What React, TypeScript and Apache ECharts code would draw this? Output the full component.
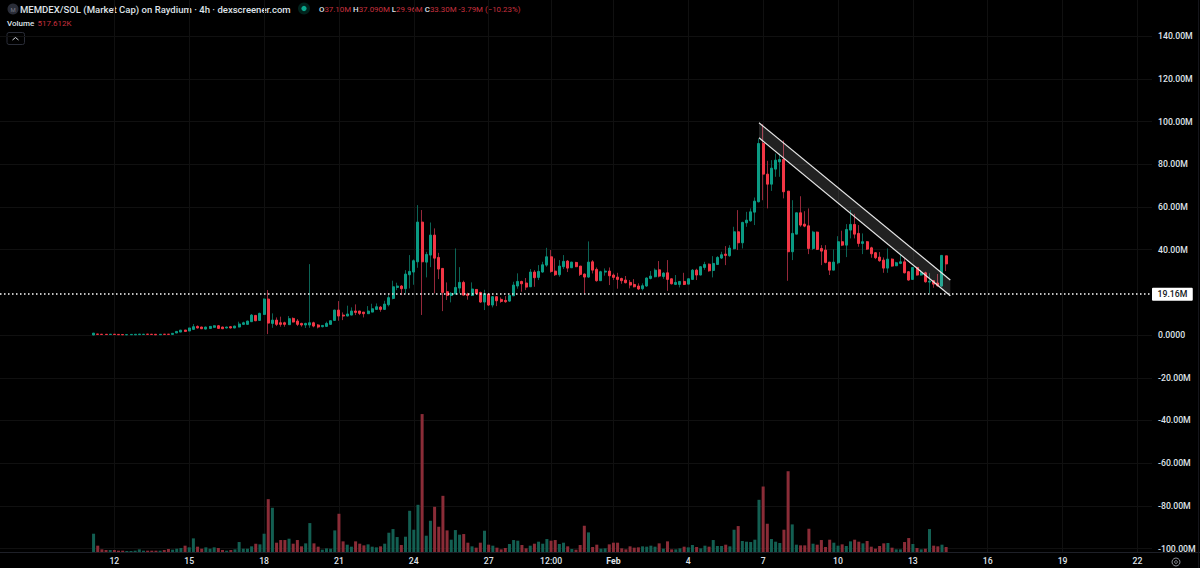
import React, { useEffect, useRef } from "react";
import * as echarts from "echarts";

// OHLC rows in millions: [open, close, low, high]
const candleRows: number[][] = [
  [0,.9,0,.9],[.5,.3,.2,.5],[.4,.25,.2,.45],[.35,.25,.2,.4],[.25,.4,.2,.45],[.4,.25,.2,.45],[.3,.15,.1,.35],[.25,.1,.05,.3],[.1,.2,.05,.25],[.15,.3,.1,.3],
  [.1,.35,.05,.4],[.2,.45,.15,.5],[.25,.4,.2,.45],[.45,.3,.25,.5],[.4,.25,.2,.45],[.35,.1,.05,.4],[.15,.35,.1,.4],[.4,.3,.25,.45],[.4,.3,.25,.45],[.3,.8,.25,.9],
  [.95,1.7,.9,1.8],[1.4,2.3,1.4,2.4],[2.35,1.7,1.6,2.4],[1.9,3.3,1.8,3.4],[2.65,3.9,2.5,5.15],[4.05,3.3,3.1,4.5],[3.75,2.95,2.8,3.9],[2.8,3.75,2.7,3.9],[3.1,4.05,3,4.2],[3.6,4.35,3.5,4.5],
  [4.35,3.1,3,4.7],[3.75,2.95,2.8,3.9],[3.3,3.75,3.1,3.9],[3.9,3.3,3.1,4.2],[3.3,4.2,3.2,4.35],[3.75,5.15,3.6,6.25],[5,5.75,4.7,6.25],[5,6.55,4.9,6.7],[6.25,9.35,6.1,9.85],[9.2,6.7,6.5,9.4],
  [6.85,10.15,6.7,10.45],[9.65,16.85,9.5,17.15],[16.85,5.6,.45,21.05],[5.45,7,3.4,10.15],[7,5,4.2,8.25],[5.75,5,3.9,8.6],[5.75,5,3.9,6.25],[4.85,7.65,4.7,8.9],[7.8,6.1,5.9,8.25],[6.55,5,4.2,7.5],
  [5.45,4.7,3.9,5.75],[4.7,5.45,3.3,5.75],[4.7,5.75,3.4,33.2],[5.75,4.2,3.6,6.25],[4.7,3.75,3.1,5.15],[3.9,4.5,3.6,4.7],[4.05,5.45,3.9,6.25],[5,6.7,4.9,6.85],[6.85,11.7,6.7,11.85],[11.7,8.9,6.7,15.9],
  [9.35,8.9,7,10.6],[8.9,9.85,8.8,13.75],[9.35,11.25,9.3,12.95],[11.25,10.6,9.35,14.35],[11.25,10.15,9.35,11.25],[10.75,10,8.25,10.75],[10,11.25,9.9,13.55],[10.75,12.3,10.7,14.65],[12,13.25,11.9,14.8],[13.1,12,10.9,13.6],
  [12,14.5,11.9,16.05],[14.2,17.5,13.4,18.7],[17.15,22.6,16.7,25.45],[22.3,22.95,21,24.5],[22.95,21.7,18.7,23.4],[21.7,28.55,19.5,30.4],[28.25,29.8,21.85,37.45],[29.5,34.8,23.55,35.4],[34.3,52.9,31.5,60.85],[52.9,34.3,9.4,58.55],
  [34.15,37.75,27,38.95],[37.45,46.8,31.8,52.7],[46.8,36,19.5,49.95],[36.35,30.9,26.2,38.5],[31.2,19.95,11.2,31.3],[20.3,18.55,16.4,24.65],[18.55,19.5,15.3,20.1],[19.2,22.3,19.2,40.55],[22,24.65,19.5,31.8],[24.65,18.7,18.7,25.45],
  [19.2,18.55,16.55,19.8],[18.55,21.55,18.25,24.65],[21.35,19.5,19.2,21.35],[19.95,15.45,15.1,20.3],[15.45,19.35,11.7,21.2],[19.2,14.05,13.6,19.5],[14.05,17.95,12.95,18.25],[17.95,16.05,13.55,18.25],[16.7,15.75,15.1,17.6],[16.2,15.6,15.1,18.25],
  [15.9,18.55,15.6,18.7],[18.4,23.4,18.25,24.95],[22.95,25.1,21.7,28.9],[25.1,24,20.3,25.45],[24.35,22.45,21.05,26.7],[22.6,29.5,22.6,30.9],[29.5,26.85,22.6,30.4],[27,29.8,25.75,32.75],[29.5,32.9,29.2,34.3],[32.75,36.65,31.95,40.85],
  [36.65,29.8,29.2,39.8],[29.95,28.25,27.65,35.9],[28.25,32.3,27.3,35.1],[32,34.5,30.9,37.45],[34.65,31.35,29.5,35.1],[31.5,34.15,31.5,34.3],[34,32,31.8,34.3],[32.3,28.4,27.65,32.3],[28.55,27.15,19.5,28.85],[27.15,34.15,26.85,43.85],
  [34.3,30.4,28.85,35.1],[30.75,25.45,25,31.65],[25.45,29.65,25.45,30.1],[29.5,29.95,27.8,31.2],[29.95,27.75,23.4,31.65],[28.1,27,25.75,28.85],[27.15,26.05,21.7,29.15],[26.5,25.45,24,26.85],[25.75,24.5,24.2,27.65],[24.65,23.4,21.85,25.75],
  [23.7,22.6,22.3,26.2],[22.95,21.55,21.05,24.2],[21.7,23.1,20.9,24.2],[22.95,26.7,22.6,27],[26.5,27.6,26.05,30],[27.3,30.4,27,31.2],[30.55,27.6,27,34.65],[27.45,29,26.35,29.45],[29.15,26.05,20.7,35.1],[26.35,24,23.7,26.5],
  [23.7,24.65,23.4,28.1],[23.7,25.1,22.3,25.1],[25.1,23.7,23.4,29.15],[23.85,26.35,23.7,26.5],[26.05,30.4,25.9,30.9],[30.4,28.1,25.75,31.05],[28.1,32,28,32.3],[31.65,33.05,30.55,34.3],[33.2,30.1,29.65,33.5],[30.25,33.55,27,36.95],
  [33.05,36.35,33,36.95],[36.05,37.6,35.6,39],[37.9,37.3,32.75,41.65],[37.15,40.7,36.65,42.1],[40.4,48.35,40.1,50.7],[48.35,43.2,39.8,58.5],[43.2,52.75,40.55,53.05],[52.55,53.8,50.7,57.7],[53.5,57.7,53.05,59.3],[57.55,62.7,51.5,64.4],
  [62.4,89.7,62.1,92],[89.7,75.35,63.15,98.75],[75.35,70.65,59.3,81.6],[70.65,78.15,67.5,81.9],[77.7,81.9,74.1,84.95],[81.1,82.2,74.1,84.95],[82.2,67.1,64,91.1],[67.4,39,25.4,67.4],[39,47.6,35.1,63.15],[47.25,57.25,47.25,57.25],
  [57.25,51.5,50.7,65],[51.95,51,50.5,58],[51.15,40.55,37.9,59.3],[40.55,48.2,39.8,48.8],[48.2,40.1,39.8,48.5],[40.55,39.3,32.75,42.1],[39.8,34,33.55,42.1],[34.15,30.4,28.1,34.15],[30.4,34.15,30.4,40.1],[33.85,43.7,33.2,46.3],
  [43.7,42.1,41.65,48.85],[42.1,49.45,36.5,51.95],[49.15,51.8,45.25,58.5],[51.8,47.25,45.25,56.75],[47.6,42.9,41.35,51.5],[42.9,43.7,37.9,47.6],[43.7,40.25,39.8,44],[40.85,38.05,36.2,41.35],[38.55,36.2,35.55,38.85],[36.5,34.8,34.3,38.85],
  [35.1,31.35,29.15,36.35],[31.35,35.55,29.15,40.55],[35.55,32.3,32,35.9],[32.45,33.85,32.3,34.3],[33.55,34.3,33.2,37.45],[34.3,29.15,28.85,35.9],[29.65,25.75,25.45,29.95],[26.05,31.65,25.9,31.8],[31.65,28.1,27.8,32],[28.1,29.15,27.8,30.4],
  [29.15,24.95,24.5,29.65],[24.8,25.25,19.5,29],[25.45,23.85,22.15,25.75],[24.35,23.1,22.6,28.55],[22.95,37.3,22.6,37.45],[37.1,33.3,29.96,37.1],
];

// Volume per candle, thousands
const volumes: number[] = [
  1898,656,276,207,207,207,138,138,104,104,138,276,138,138,138,138,138,207,311,242,
  345,414,656,483,1415,552,345,483,345,483,414,207,138,207,276,1035,345,345,587,863,
  794,1898,5486,4589,966,1242,1242,1380,863,1242,587,897,3002,897,552,242,380,345,2243,3968,
  1104,759,552,1104,863,690,794,552,483,587,863,2001,2381,1553,725,1587,4278,2312,4899,14318,
  1691,3243,4692,2622,5831,2243,1277,2277,1794,1863,966,587,449,966,2208,759,656,449,276,414,
  828,1242,1173,725,380,656,863,1070,863,1346,1173,1242,828,966,587,311,242,725,2726,2036,
  518,759,345,380,794,966,966,380,276,587,449,483,587,552,656,552,897,345,1104,276,
  276,380,552,483,725,518,380,656,552,1242,621,621,759,587,2312,2691,1139,1070,1035,1277,
  5417,6797,2933,1346,1070,932,2312,8384,2864,759,690,690,2415,863,759,1242,518,1277,966,656,
  794,621,1104,1277,1070,897,1139,552,345,621,897,932,449,276,276,1035,1449,828,414,276,
  345,2381,656,587,759,518,
];

const tickKeys = ["01-12 00","01-15 00","01-18 00","01-21 00","01-24 00","01-27 00","01-29 12","02-01 00","02-04 00","02-07 00","02-10 00","02-13 00","02-16 00","02-19 00","02-22 00"];
const tickLabels = ["12","15","18","21","24","27","12:00","Feb","4","7","10","13","16","19","22"];
const priceTicks = [140,120,100,80,60,40,0,-20,-40,-60,-80,-100];

const leadingSlots = 22;
const totalSlots = 277;
// channel: [start slot, upper, lower, end slot, upper, lower]
const channelRow = [182, 99.4, 92.4, 228, 25.8, 18.4];
const dottedPrice = 19.16;
const lastPrice = 33.30;

const FONT = "Roboto, 'Noto Sans', sans-serif";
const UP = "#0a9a83", DOWN = "#f23645", UP_WICK = "#0b6355", DOWN_WICK = "#96283a", UP_VOL = "#135f52", DOWN_VOL = "#8a2c37";
const AXIS_SIZE = 8.7;
const TEXT = "#dfe2e8";
const GRID = "#101010";

const categories: string[] = [];
{
  const start = Date.UTC(2025, 0, 7, 12);
  const pad = (n: number) => String(n).padStart(2, "0");
  for (let i = 0; i < totalSlots; i++) {
    const d = new Date(start + i * 4 * 3600 * 1000);
    categories.push(`${pad(d.getUTCMonth() + 1)}-${pad(d.getUTCDate())} ${pad(d.getUTCHours())}`);
  }
}
const blanks = (n: number) => Array.from({ length: n }, () => "-");

export default function App() {
  const ref = useRef<HTMLDivElement>(null);
  useEffect(() => {
    const chart = echarts.init(ref.current!, null, { renderer: "svg" });
    const isTick = (_: number, v: string) => tickKeys.includes(v);
    const wickData = [...blanks(leadingSlots), ...candleRows];
    const bodyData = [...blanks(leadingSlots), ...candleRows.map(([o, c]) => [o, c, Math.min(o, c), Math.max(o, c)])];
    const volData = [
      ...blanks(leadingSlots),
      ...volumes.map((v, i) => ({ value: v, itemStyle: { color: candleRows[i][1] >= candleRows[i][0] ? UP_VOL : DOWN_VOL } })),
    ];
    chart.setOption({
      animation: false,
      backgroundColor: "#000",
      textStyle: { fontFamily: FONT },
      grid: { left: 0, top: 0, width: 1152, height: 552, outerBoundsMode: "none" },
      xAxis: {
        type: "category",
        data: categories,
        axisLine: { show: false },
        axisTick: { show: false, alignWithLabel: true, interval: isTick },
        splitLine: { show: true, alignWithLabel: true, interval: isTick, lineStyle: { color: GRID, width: 1 } },
        axisLabel: {
          interval: isTick,
          margin: 4,
          color: TEXT,
          fontSize: AXIS_SIZE,
          fontWeight: 500,
          fontFamily: FONT,
          formatter: (v: string) => {
            const t = tickLabels[tickKeys.indexOf(v)];
            return t === "Feb" ? `{b|${t}}` : t;
          },
          rich: { b: { fontWeight: "bold", color: TEXT, fontSize: AXIS_SIZE, fontFamily: FONT } },
        },
      },
      yAxis: [
        {
          type: "value",
          position: "right",
          min: -101.6,
          max: 156.9,
          axisLine: { show: false },
          axisTick: { show: false, customValues: priceTicks },
          splitLine: { show: true, lineStyle: { color: GRID, width: 1 } },
          axisLabel: {
            customValues: priceTicks,
            margin: 6,
            color: TEXT,
            fontSize: AXIS_SIZE,
            fontWeight: 500,
            fontFamily: FONT,
            formatter: (v: number) => (v === 0 ? "0.0000" : `${v.toFixed(2)}M`),
          },
        },
        { type: "value", min: 0, max: 57300, show: false },
      ],
      series: [
        {
          type: "bar",
          yAxisIndex: 1,
          barWidth: 3,
          data: volData,
          silent: true,
        },
        {
          type: "candlestick",
          barWidth: 1,
          data: wickData,
          silent: true,
          itemStyle: { color: UP_WICK, color0: DOWN_WICK, borderColor: UP_WICK, borderColor0: DOWN_WICK, borderWidth: 1 },
        },
        {
          type: "candlestick",
          barWidth: 2.5,
          data: bodyData,
          silent: true,
          itemStyle: { color: UP, color0: DOWN, borderColor: UP, borderColor0: DOWN, borderWidth: 1 },
          markLine: {
            silent: true,
            symbol: "none",
            animation: false,
            data: [
              {
                yAxis: dottedPrice,
                lineStyle: { color: "#fff", width: 1.5, type: [1.5, 2.5] },
                label: {
                  show: true, position: "end", distance: 0, formatter: "19.16M", color: "#131722", fontWeight: 500,
                  backgroundColor: "#fff", fontSize: AXIS_SIZE, fontFamily: FONT, padding: [2, 5.5], borderRadius: 1,
                },
              },
              {
                yAxis: lastPrice,
                lineStyle: { opacity: 0 },
                label: {
                  show: true, position: "end", distance: 0, formatter: "33.30M", color: "#fff", fontWeight: 500,
                  backgroundColor: DOWN, fontSize: AXIS_SIZE, fontFamily: FONT, padding: [2, 5.5], borderRadius: 1,
                },
              },
            ],
          },
        },
        {
          type: "custom",
          silent: true,
          clip: false,
          z: 5,
          encode: { x: [0, 3], y: [1, 2, 4, 5] },
          data: [channelRow],
          renderItem: (_p: any, api: any) => {
            const [a, b, c, d, e, f] = [0, 1, 2, 3, 4, 5].map((n) => api.value(n));
            const u1 = api.coord([a, b]), l1 = api.coord([a, c]), u2 = api.coord([d, e]), l2 = api.coord([d, f]);
            const stroke = { stroke: "#e6e6e6", lineWidth: 1.2 };
            return {
              type: "group",
              children: [
                { type: "polygon", shape: { points: [u1, u2, l2, l1] }, style: { fill: "rgba(255,255,255,0.13)" } },
                { type: "line", shape: { x1: u1[0], y1: u1[1], x2: u2[0], y2: u2[1] }, style: stroke },
                { type: "line", shape: { x1: l1[0], y1: l1[1], x2: l2[0], y2: l2[1] }, style: stroke },
              ],
            };
          },
        },
      ],
      graphic: [
        { type: "line", silent: true, shape: { x1: 0, y1: 552.5, x2: 1200, y2: 552.5 }, style: { stroke: "#1e2028", lineWidth: 1 } },
        { type: "line", silent: true, shape: { x1: 1198.5, y1: 0, x2: 1198.5, y2: 568 }, style: { stroke: "#14151a", lineWidth: 1 } },
        { type: "circle", silent: true, shape: { cx: 13, cy: 9, r: 5.5 }, style: { fill: "#2a2d38" } },
        { type: "text", silent: true, x: 13, y: 9, style: { text: "M", fill: "#787b86", fontSize: 6, fontFamily: FONT, align: "center", verticalAlign: "middle" } },
        { type: "text", silent: true, x: 20, y: 9, style: { text: "MEMDEX/SOL (Market Cap) on Raydium · 4h · dexscreener.com", fill: TEXT, fontSize: 9.55, fontWeight: 500, fontFamily: FONT, verticalAlign: "middle" } },
        { type: "circle", silent: true, shape: { cx: 304, cy: 8.5, r: 6 }, style: { fill: "rgba(8,153,129,0.22)" } },
        { type: "circle", silent: true, shape: { cx: 304, cy: 8.5, r: 2.6 }, style: { fill: "#0aa88e" } },
        {
          type: "text", silent: true, x: 319, y: 9,
          style: {
            text: "{k|O}{v|37.10M} {k|H}{v|37.090M} {k|L}{v|29.96M} {k|C}{v|33.30M} {v|-3.79M (−10.23%)}",
            verticalAlign: "middle", fontFamily: FONT, fontSize: 7.9,
            rich: { k: { fill: TEXT, fontSize: 7.9, fontWeight: 500, fontFamily: FONT }, v: { fill: "#c8313f", fontSize: 7.9, fontFamily: FONT } },
          },
        },
        { type: "text", silent: true, x: 7, y: 23, style: { text: "Volume", fill: TEXT, fontSize: 8, fontWeight: 500, fontFamily: FONT, verticalAlign: "middle" } },
        { type: "text", silent: true, x: 37.5, y: 23, style: { text: "517.612K", fill: "#c8313f", fontSize: 8, fontFamily: FONT, verticalAlign: "middle" } },
        { type: "rect", silent: true, shape: { x: 7, y: 32.5, width: 17.5, height: 12, r: 2 }, style: { fill: "none", stroke: "#2a2d38", lineWidth: 1 } },
        { type: "polyline", silent: true, shape: { points: [[12.5, 40], [15.5, 37.5], [18.5, 40]] }, style: { fill: "none", stroke: "#d1d4dc", lineWidth: 1 } },
        { type: "circle", silent: true, shape: { cx: 1176, cy: 562, r: 4 }, style: { fill: "none", stroke: "#8a8d96", lineWidth: 1 } },
        { type: "circle", silent: true, shape: { cx: 1176, cy: 562, r: 1.4 }, style: { fill: "none", stroke: "#8a8d96", lineWidth: 1 } },
      ],
    });
    return () => chart.dispose();
  }, []);
  return <div ref={ref} style={{ position: "fixed", left: 0, top: 0, width: 1200, height: 568, background: "#000" }} />;
}
